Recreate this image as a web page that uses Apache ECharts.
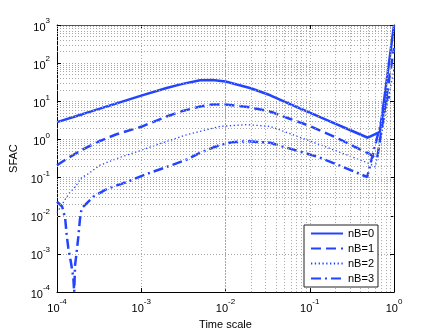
<!DOCTYPE html>
<html>
<head>
<meta charset="utf-8">
<script src="https://cdn.jsdelivr.net/npm/echarts@6/dist/echarts.min.js"></script>
<style>
  html, body { margin: 0; padding: 0; background: #fff; }
  #chart { width: 436px; height: 335px; }
</style>
</head>
<body>
<div id="chart"></div>
<script>
// series (x = time scale, y = SFAC)
const seriesNames = ['nB=0', 'nB=1', 'nB=2', 'nB=3']

const x0 = [1e-4, 2e-4, 5e-4, 1e-3, 2e-3, 3e-3, 5e-3, 7e-3, 1e-2, 2e-2, 3.4e-2, 5e-2, 0.1, 0.2, 0.3, 0.49, 0.68, 1]
const y0 = [2.85, 4.6, 8.7, 14.1, 22.4, 28.2, 35.5, 36, 33, 22, 14.4, 9.85, 5.07, 2.61, 1.77, 1.11, 1.58, 1000]

const x1 = [1e-4, 1.3e-4, 2e-4, 3e-4, 5e-4, 1e-3, 2e-3, 3e-3, 5e-3, 7e-3, 1e-2, 2e-2, 3.4e-2, 5e-2, 0.1, 0.2, 0.3, 0.5, 0.63, 1]
const y1 = [0.21, 0.31, 0.54, 0.85, 1.35, 2.15, 4.0, 5.5, 7.3, 8.2, 8.3, 6.9, 5.4, 3.9, 2.26, 1.16, 0.74, 0.43, 0.31, 250]

const x2 = [1e-4, 1.25e-4, 1.4e-4, 1.64e-4, 1.96e-4, 2.35e-4, 3.2e-4, 5.6e-4, 1e-3, 1.4e-3, 3.5e-3, 8.6e-3, 1.8e-2, 3.4e-2, 0.13, 0.52, 0.6, 1]
const y2 = [0.012, 0.027, 0.039, 0.057, 0.1, 0.126, 0.21, 0.34, 0.52, 0.68, 1.34, 2.2, 2.45, 2.2, 0.74, 0.23, 0.19, 70]

const x3 = [1e-4, 1.15e-4, 1.25e-4, 1.3e-4, 1.36e-4, 1.47e-4, 1.56e-4, 1.6e-4, 1.64e-4, 1.71e-4, 1.79e-4, 1.87e-4, 1.96e-4, 2.7e-4, 4e-4, 6.8e-4, 1e-3, 1.4e-3, 2e-3, 3.5e-3, 5e-3, 8.6e-3, 1.2e-2, 1.8e-2, 3.4e-2, 0.13, 0.3, 0.48, 0.83, 1]
const y3 = [0.0236, 0.0175, 0.0086, 0.0033, 0.00146, 0.00057, 0.00025, 0.0001, 0.00052, 0.0011, 0.0028, 0.0079, 0.0158, 0.0316, 0.052, 0.077, 0.11, 0.145, 0.19, 0.3, 0.45, 0.72, 0.85, 0.9, 0.82, 0.34, 0.16, 0.104, 12.5, 13]

// axis ranges (decades)
const xDecades = [-4, 0]
const yDecades = [-4, 3]

const font = 'Liberation Sans, Arial, Helvetica, sans-serif'
const blue = '#2344ff'
const gridGrey = '#a6a6a6'

// minor grid positions 2..9 x 10^d
function minorPositions(range) {
  const out = []
  for (let d = range[0]; d < range[1]; d++) {
    for (let k = 2; k <= 9; k++) out.push(k * Math.pow(10, d))
  }
  return out
}
const xMinor = minorPositions(xDecades)
const yMinor = minorPositions(yDecades)

const pairs = (xs, ys) => xs.map((x, i) => [x, ys[i]])

const expLabel = {
  fontFamily: font,
  color: '#000',
  formatter: v => '{b|10}{e|' + Math.round(Math.log10(v)) + '}',
  rich: {
    b: { fontFamily: font, fontSize: 11, lineHeight: 16, verticalAlign: 'bottom', color: '#000' },
    e: { fontFamily: font, fontSize: 8, lineHeight: 9, verticalAlign: 'top', color: '#000' }
  }
}

const splitDotted = { show: true, lineStyle: { color: gridGrey, width: 1, type: [1, 2] } }

const chart = echarts.init(document.getElementById('chart'))

const option = {
  animation: false,
  backgroundColor: '#fff',
  grid: { left: 57, top: 25, right: 42, bottom: 38 },
  legend: {
    data: seriesNames,
    orient: 'vertical',
    left: 304,
    top: 225,
    itemWidth: 32,
    itemHeight: 10,
    itemGap: 4,
    padding: [3, 4, 3, 6],
    borderColor: '#222',
    borderWidth: 1,
    borderRadius: 0,
    backgroundColor: '#fff',
    itemStyle: { opacity: 0 },
    textStyle: { fontFamily: font, fontSize: 11, lineHeight: 10, color: '#000' },
    z: 10
  },
  xAxis: [
    {
      type: 'log',
      logBase: 10,
      min: 1e-4,
      max: 1,
      splitNumber: 4,
      name: 'Time scale',
      nameLocation: 'middle',
      nameGap: 19,
      nameTextStyle: { fontFamily: font, fontSize: 11, color: '#000' },
      axisLine: { show: true, onZero: false, lineStyle: { color: '#000', width: 1 } },
      axisTick: { show: true, inside: true, length: 4, lineStyle: { color: '#000' } },
      axisLabel: Object.assign({ margin: 6 }, expLabel),
      splitLine: splitDotted
    },
    {
      type: 'log',
      logBase: 10,
      min: 1e-4,
      max: 1,
      splitNumber: 4,
      position: 'top',
      axisLine: { show: true, onZero: false, lineStyle: { color: '#555', width: 1 } },
      axisTick: { show: true, inside: true, length: 4, lineStyle: { color: '#000' } },
      axisLabel: { show: false },
      splitLine: { show: false }
    }
  ],
  yAxis: [
    {
      type: 'log',
      logBase: 10,
      min: 1e-4,
      max: 1000,
      splitNumber: 7,
      name: 'SFAC',
      nameLocation: 'middle',
      nameGap: 28,
      nameTextStyle: { fontFamily: font, fontSize: 11, color: '#000' },
      axisLine: { show: true, onZero: false, lineStyle: { color: '#000', width: 1 } },
      axisTick: { show: true, inside: true, length: 4, lineStyle: { color: '#000' } },
      axisLabel: Object.assign({ margin: 7 }, expLabel),
      splitLine: splitDotted
    },
    {
      type: 'log',
      logBase: 10,
      min: 1e-4,
      max: 1000,
      splitNumber: 7,
      position: 'right',
      axisLine: { show: true, onZero: false, lineStyle: { color: '#000', width: 1 } },
      axisTick: { show: true, inside: true, length: 4, lineStyle: { color: '#000' } },
      axisLabel: { show: false },
      splitLine: { show: false }
    }
  ],
  series: [
    {
      name: 'minor-grid',
      type: 'line',
      data: [],
      silent: true,
      z: 1,
      markLine: {
        silent: true,
        symbol: ['none', 'none'],
        label: { show: false },
        emphasis: { disabled: true },
        lineStyle: { color: gridGrey, width: 1, type: [1, 2] },
        data: xMinor.map(v => ({ xAxis: v })).concat(yMinor.map(v => ({ yAxis: v })))
      }
    },
    {
      name: seriesNames[0],
      type: 'line',
      symbol: 'none',
      z: 3,
      data: pairs(x0, y0),
      lineStyle: { color: blue, width: 2.5, type: 'solid' },
      itemStyle: { color: blue }
    },
    {
      name: seriesNames[1],
      type: 'line',
      symbol: 'none',
      z: 3,
      data: pairs(x1, y1),
      lineStyle: { color: blue, width: 2.5, type: [10, 5] },
      itemStyle: { color: blue }
    },
    {
      name: seriesNames[2],
      type: 'line',
      symbol: 'none',
      z: 3,
      data: pairs(x2, y2),
      lineStyle: { color: blue, width: 1.3, type: [1.3, 2.5] },
      itemStyle: { color: blue }
    },
    {
      name: seriesNames[3],
      type: 'line',
      symbol: 'none',
      z: 3,
      data: pairs(x3, y3),
      lineStyle: { color: blue, width: 2.5, type: [10, 4, 2, 4] },
      itemStyle: { color: blue }
    }
  ]
}

chart.setOption(option)
</script>
</body>
</html>
